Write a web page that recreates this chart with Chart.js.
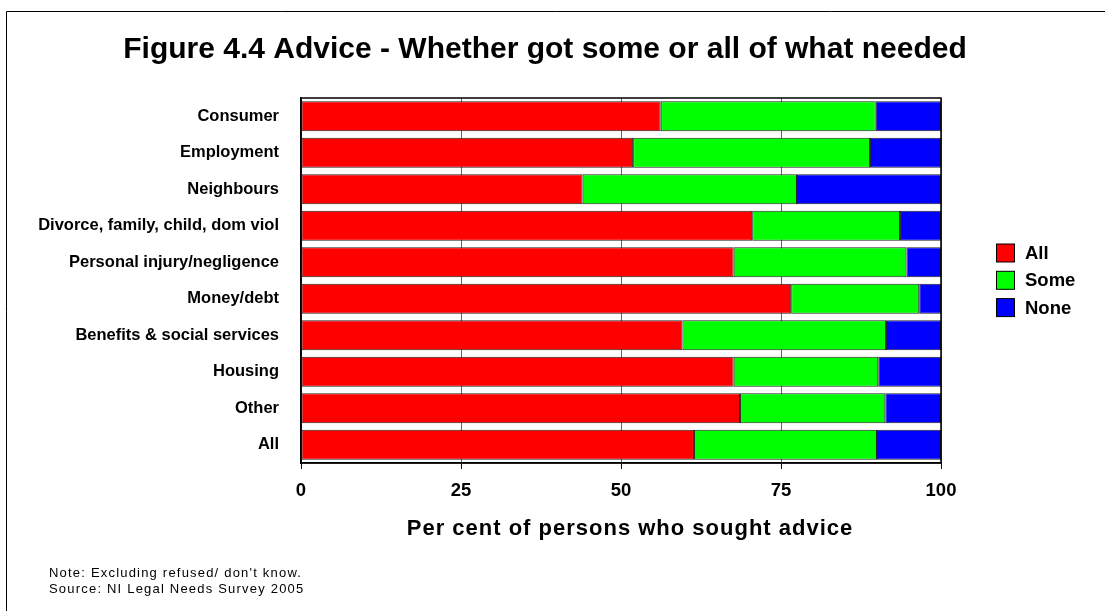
<!DOCTYPE html>
<html>
<head>
<meta charset="utf-8">
<script src="https://cdn.jsdelivr.net/npm/chart.js@4.4.1/dist/chart.umd.min.js"></script>
<style>
  html, body { margin: 0; padding: 0; background: #ffffff; }
  #wrap { width: 1105px; height: 611px; position: relative; }
</style>
</head>
<body>
<div id="wrap"><canvas id="chart" width="1105" height="611"></canvas></div>
<script>
// Problem categories, top to bottom
const categories = [
  'Consumer',
  'Employment',
  'Neighbours',
  'Divorce, family, child, dom viol',
  'Personal injury/negligence',
  'Money/debt',
  'Benefits & social services',
  'Housing',
  'Other',
  'All'
];

// Per cent of persons who sought advice, by how much of what they needed they got
const allValues  = [56.2, 51.9, 44.0, 70.5, 67.6, 76.6, 59.6, 67.6, 68.6, 61.4];
const someValues = [33.6, 37.0, 33.5, 23.1, 27.0, 20.0, 31.8, 22.6, 22.7, 28.6];
const noneValues = [10.2, 11.1, 22.5,  6.4,  5.4,  3.4,  8.6,  9.8,  8.7, 10.0];

const seriesNames = ['All', 'Some', 'None'];
const xTicks = [0, 25, 50, 75, 100];

const titleText = 'Figure 4.4 Advice - Whether got some or all of what needed';
const axisTitle = 'Per cent of persons who sought advice';
const noteLines = [
  "Note: Excluding refused/ don't know.",
  'Source: NI Legal Needs Survey 2005'
];

const FONT = '"Liberation Sans", Arial, Helvetica, sans-serif';

// Draw a scale's title with a little extra tracking, nudged sideways
function trackTitle(scale, spacing, dx) {
  if (scale._tracked) return;
  const orig = scale.drawTitle.bind(scale);
  scale.drawTitle = function () {
    const ctx = this.ctx;
    ctx.save();
    ctx.letterSpacing = spacing;
    ctx.translate(dx, 0);
    orig();
    ctx.restore();
  };
  scale._tracked = true;
}

// Frame, plot box, heading, legend and notes drawn around the bars
const decorations = {
  id: 'decorations',
  beforeDraw(chart) {
    const ctx = chart.ctx;
    ctx.save();
    ctx.fillStyle = '#ffffff';
    ctx.fillRect(0, 0, chart.width, chart.height);
    // outer frame (top and left edges)
    ctx.strokeStyle = '#000000';
    ctx.lineWidth = 1;
    ctx.beginPath();
    ctx.moveTo(6.5, chart.height);
    ctx.lineTo(6.5, 11.5);
    ctx.lineTo(chart.width, 11.5);
    ctx.stroke();
    ctx.restore();
  },
  afterDraw(chart) {
    const ctx = chart.ctx;
    const a = chart.chartArea;
    ctx.save();
    // plot box
    ctx.strokeStyle = '#000000';
    ctx.lineWidth = 1.5;
    ctx.strokeRect(a.left, a.top, a.right - a.left, a.bottom - a.top);

    // heading
    ctx.fillStyle = '#000000';
    ctx.font = 'bold 30px ' + FONT;
    ctx.textAlign = 'center';
    ctx.textBaseline = 'middle';
    ctx.fillText(titleText, 545, 50);

    // legend
    ctx.font = 'bold 18.5px ' + FONT;
    ctx.textAlign = 'left';
    chart.data.datasets.forEach((ds, i) => {
      const y = 253 + i * 27.3;
      ctx.fillStyle = ds.backgroundColor;
      ctx.fillRect(996.5, y - 9, 18, 18);
      ctx.strokeStyle = '#000000';
      ctx.lineWidth = 1;
      ctx.strokeRect(996.5, y - 9, 18, 18);
      ctx.fillStyle = '#000000';
      ctx.fillText(ds.label, 1025, y + 1);
    });

    // notes
    ctx.font = '13px ' + FONT;
    ctx.letterSpacing = '1.2px';
    ctx.textBaseline = 'middle';
    noteLines.forEach((line, i) => {
      ctx.fillText(line, 49, 573 + i * 16);
    });
    ctx.restore();
  }
};

const colors = ['#ff0000', '#00ff00', '#0000ff'];
const seriesValues = [allValues, someValues, noneValues];

new Chart(document.getElementById('chart'), {
  type: 'bar',
  data: {
    labels: categories,
    datasets: seriesNames.map((name, i) => ({
      label: name,
      data: seriesValues[i],
      backgroundColor: colors[i],
      borderColor: '#222222',
      borderWidth: 1,
      borderSkipped: false,
      categoryPercentage: 1.0,
      barPercentage: 0.82
    }))
  },
  options: {
    indexAxis: 'y',
    responsive: false,
    animation: false,
    devicePixelRatio: 1,
    layout: { padding: { top: 98, right: 164, bottom: 0, left: 0 } },
    plugins: {
      legend: { display: false },
      title: { display: false },
      tooltip: { enabled: false }
    },
    scales: {
      x: {
        stacked: true,
        min: 0,
        max: 100,
        afterBuildTicks(scale) {
          scale.ticks = xTicks.map(v => ({ value: v }));
        },
        afterFit(scale) {
          scale.height = 148;
          trackTitle(scale, '1px', 9);
        },
        grid: {
          color: '#666666',
          lineWidth: 1,
          drawTicks: true,
          tickLength: 6,
          tickColor: '#000000'
        },
        border: { display: true, color: '#000000', width: 1.5 },
        ticks: {
          color: '#000000',
          padding: 11,
          maxRotation: 0,
          font: { family: FONT, size: 18.5, weight: 'bold' }
        },
        title: {
          display: true,
          text: axisTitle,
          color: '#000000',
          font: { family: FONT, size: 22, weight: 'bold' },
          padding: { top: 0, bottom: 69 }
        }
      },
      y: {
        stacked: true,
        afterFit(scale) { scale.width = 301; },
        grid: { display: false, drawTicks: false },
        border: { display: true, color: '#000000', width: 1.5 },
        ticks: {
          color: '#000000',
          padding: 22,
          font: { family: FONT, size: 16.5, weight: 'bold' }
        }
      }
    }
  },
  plugins: [decorations]
});
</script>
</body>
</html>
